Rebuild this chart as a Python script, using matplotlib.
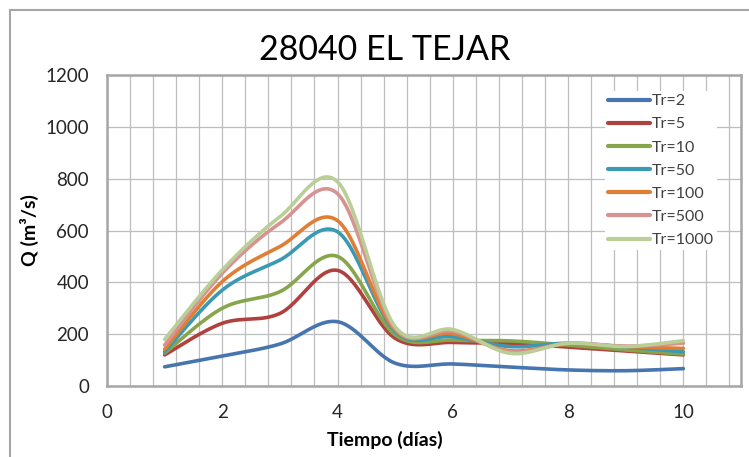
import numpy as np
import matplotlib
matplotlib.use('Agg')
import matplotlib.pyplot as plt
from matplotlib.ticker import MultipleLocator
from matplotlib.patches import Rectangle

plt.rcParams['font.family'] = ['Lato', 'DejaVu Sans']

# datos (Q en m3/s por dia)
dias = [1, 2, 3, 4, 5, 6, 7, 8, 9, 10]
etiquetas = ['Tr=2', 'Tr=5', 'Tr=10', 'Tr=50', 'Tr=100', 'Tr=500', 'Tr=1000']
q_tr2 = [74, 116, 162, 248, 88, 85, 73, 62, 59, 67]
q_tr5 = [120, 242, 280, 446, 184, 168, 165, 150, 135, 120]
q_tr10 = [127, 300, 364, 500, 197, 177, 174, 158, 139, 123]
q_tr50 = [132, 370, 486, 595, 210, 190, 152, 165, 150, 132]
q_tr100 = [142, 403, 538, 638, 216, 202, 136, 162, 152, 145]
q_tr500 = [158, 435, 628, 742, 222, 211, 132, 165, 154, 165]
q_tr1000 = [180, 448, 653, 788, 229, 218, 126, 165, 152, 175]
colores = ['#4775AF', '#B0413E', '#87A64B', '#3B9AB3', '#E07F33', '#D69391', '#B9CF97']

series = [q_tr2, q_tr5, q_tr10, q_tr50, q_tr100, q_tr500, q_tr1000]


def suavizar(x, y, n=30):
    # curva tipo "linea suavizada" de Excel (Bezier cubica / Catmull-Rom)
    x = np.asarray(x, float)
    y = np.asarray(y, float)
    px = np.concatenate([[x[0]], x, [x[-1]]])
    py = np.concatenate([[y[0]], y, [y[-1]]])
    t = np.linspace(0, 1, n)
    xs, ys = [], []
    for i in range(1, len(px) - 2):
        p0x, p1x, p2x, p3x = px[i - 1], px[i], px[i + 1], px[i + 2]
        p0y, p1y, p2y, p3y = py[i - 1], py[i], py[i + 1], py[i + 2]
        c1x = p1x + (p2x - p0x) / 6
        c1y = p1y + (p2y - p0y) / 6
        c2x = p2x - (p3x - p1x) / 6
        c2y = p2y - (p3y - p1y) / 6
        b = [(1 - t) ** 3, 3 * (1 - t) ** 2 * t, 3 * (1 - t) * t ** 2, t ** 3]
        xs.append(b[0] * p1x + b[1] * c1x + b[2] * c2x + b[3] * p2x)
        ys.append(b[0] * p1y + b[1] * c1y + b[2] * c2y + b[3] * p2y)
    return np.concatenate(xs), np.concatenate(ys)


fig = plt.figure(figsize=(7.49, 4.57), dpi=100)
ax = fig.add_axes([107 / 749, 71 / 457, 634 / 749, 311 / 457])

# marco exterior del grafico
fig.patches.append(Rectangle((10 / 749, -0.2), 1.2, 1.2 - 10 / 457,
                             transform=fig.transFigure, fill=False,
                             edgecolor='#A6A6A6', lw=1.5))

for q, c, lab in zip(series, colores, etiquetas):
    xs, ys = suavizar(dias, q)
    ax.plot(xs, ys, color=c, lw=2.6, label=lab, solid_capstyle='round')

ax.set_xlim(0, 11)
ax.set_ylim(0, 1200)
ax.xaxis.set_major_locator(MultipleLocator(2))
ax.xaxis.set_minor_locator(MultipleLocator(0.4))
ax.yaxis.set_major_locator(MultipleLocator(200))
ax.grid(True, which='both', axis='x', color='#BEBEBE', lw=0.9)
ax.grid(True, which='major', axis='y', color='#BEBEBE', lw=0.9)
ax.set_axisbelow(True)
ax.tick_params(which='both', length=0, labelsize=13.5, pad=13, colors='#262626')
for s in ax.spines.values():
    s.set_color('#A6A6A6')
    s.set_linewidth(1.8)

ax.set_xlabel('Tiempo (días)', fontsize=14, fontweight='bold')
ax.xaxis.set_label_coords((385 - 107) / 634, -(431 - 386) / 311)
ax.set_ylabel('Q (m³/s)', fontsize=14, fontweight='bold')
ax.yaxis.set_label_coords(-(107 - 39) / 634, 0.5)
fig.text(385 / 749, 1 - 50 / 457, '28040 EL TEJAR', fontsize=24.5,
         ha='center', va='center')

leg = ax.legend(loc='upper left', bbox_to_anchor=(605 / 749, 1 - 91 / 457),
                bbox_transform=fig.transFigure, fontsize=11.5, frameon=True,
                facecolor='white', edgecolor='none', framealpha=1,
                handlelength=2.6, handletextpad=0.15, labelspacing=0.56,
                borderpad=0.2, borderaxespad=0)
for t in leg.get_texts():
    t.set_color('#404040')
for h in leg.get_lines():
    h.set_linewidth(3)

fig.savefig('out.png', dpi=100)
